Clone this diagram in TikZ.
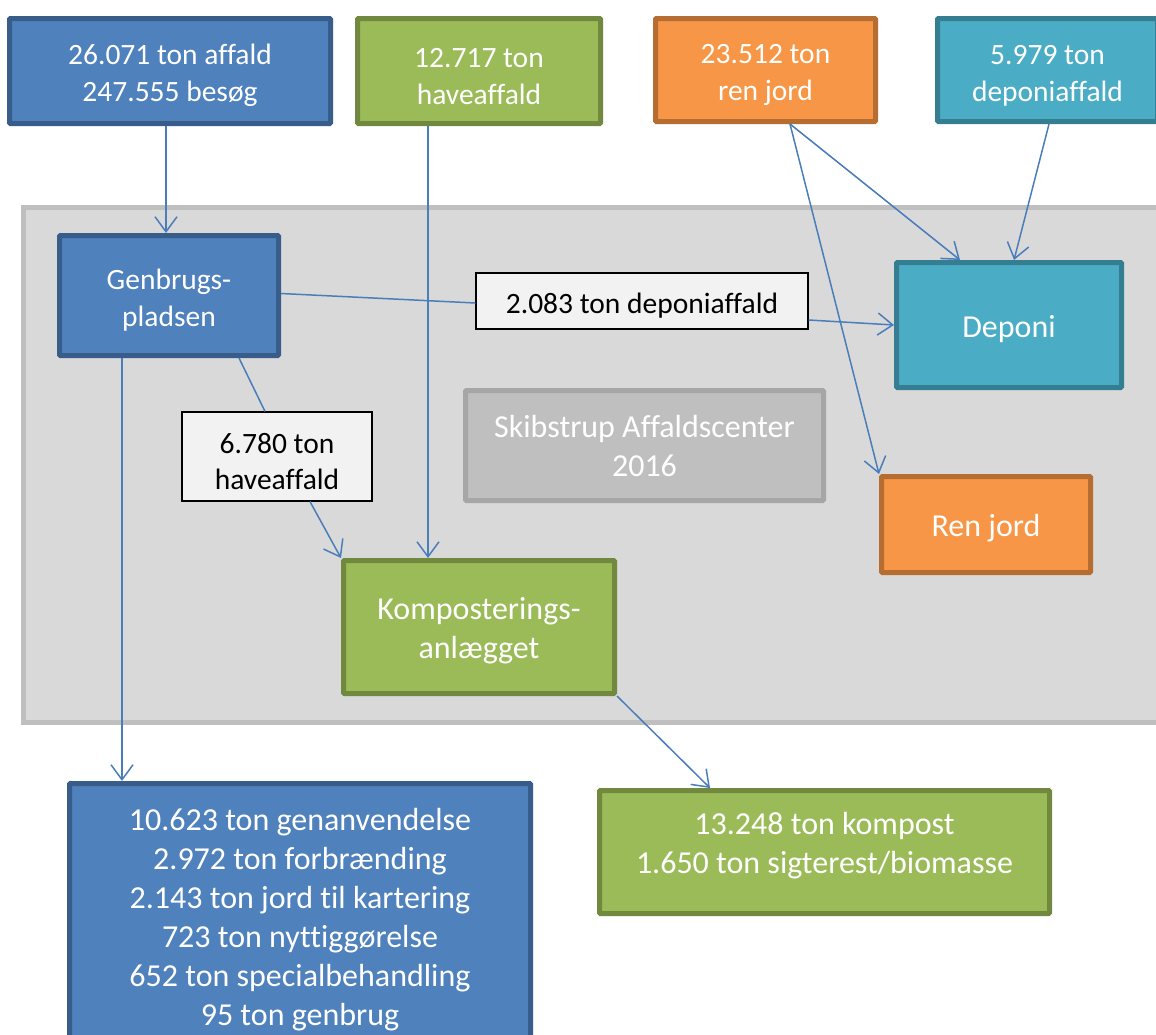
\documentclass[tikz,border=0pt]{standalone}
\usepackage{fontspec}
\setmainfont{Carlito}[Ligatures={NoCommon,NoContextual}]
\usetikzlibrary{arrows.meta}
\definecolor{bluefill}{HTML}{4F81BD}
\definecolor{blueline}{HTML}{385D8A}
\definecolor{grnfill}{HTML}{9BBB59}
\definecolor{grnline}{HTML}{71893F}
\definecolor{orafill}{HTML}{F79646}
\definecolor{oraline}{HTML}{B66D31}
\definecolor{tealfill}{HTML}{4BACC6}
\definecolor{tealline}{HTML}{357D91}
\definecolor{contfill}{HTML}{D9D9D9}
\definecolor{contline}{HTML}{BFBFBF}
\definecolor{titlefill}{HTML}{BFBFBF}
\definecolor{titleline}{HTML}{A6A6A6}
\definecolor{lblfill}{HTML}{F2F2F2}
\definecolor{flowcol}{HTML}{4A7EBB}
% taller first line, so the text sits a little lower in its box
\newcommand\tp{\rule{0pt}{30pt}}
% deeper last line, so the text sits a little higher
\newcommand\bt{\rule[-19pt]{0pt}{1pt}}
\begin{document}
\begin{tikzpicture}
      [x=1pt,y=-1pt,
       bx/.style={rectangle, rounded corners=1pt, line width=5pt, text=white, align=center, inner sep=0pt, font=\fontsize{29.5}{37}\selectfont},
       big/.style={font=\fontsize{32}{39}\selectfont},
       blubox/.style={bx, fill=bluefill, draw=blueline},
       grnbox/.style={bx, fill=grnfill, draw=grnline},
       orabox/.style={bx, fill=orafill, draw=oraline},
       tealbox/.style={bx, fill=tealfill, draw=tealline},
       titlebox/.style={bx, big, fill=titlefill, draw=titleline},
       lbl/.style={rectangle, draw=black, line width=1.2pt, fill=lblfill, align=center, inner sep=0pt, font=\fontsize{29.5}{36}\selectfont},
       flow/.style={draw=flowcol, line width=1.5pt, -{Straight Barb[length=15pt,width=22pt]}}]
    \clip (0,0) rectangle (1156,1034);
    \fill[white] (0,0) rectangle (1156,1034);
    \draw[fill=contfill, draw=contline, line width=5pt] (23.5,207.5) rectangle (1180,722.5);

    \node[blubox, minimum width=321pt, minimum height=105pt] (affald) at (170,71) {\tp 26.071 ton affald\\247.555 besøg};
    \node[grnbox, minimum width=243pt, minimum height=105pt] (have) at (479,71) {\tp 12.717 ton\\haveaffald};
    \node[orabox, minimum width=220pt, minimum height=103pt] (jord) at (765.5,70) {\tp 23.512 ton\\ren jord};
    \node[tealbox, minimum width=220pt, minimum height=103pt] (depaff) at (1047.5,70) {\tp 5.979 ton\\deponiaffald};

    \node[blubox, minimum width=219pt, minimum height=120pt] (gen) at (169,295.5) {\tp Genbrugs-\\pladsen};
    \node[tealbox, big, minimum width=225pt, minimum height=125pt] (depo) at (1009,325) {\tp Deponi};
    \node[titlebox, minimum width=358pt, minimum height=110pt] (title) at (644.5,445.5) {Skibstrup Affaldscenter\\2016};
    \node[orabox, big, minimum width=209pt, minimum height=96pt] (ren) at (986,524.5) {\tp Ren jord};
    \node[grnbox, big, minimum width=271pt, minimum height=133pt] (komp) at (479,627) {\tp Komposterings-\\anlægget};

    \node[lbl, minimum width=332pt, minimum height=56pt] (lbldep) at (642,301) {\tp 2.083 ton deponiaffald};
    \node[lbl, minimum width=190pt, minimum height=89pt] (lblhave) at (277,456.5) {\tp 6.780 ton\\haveaffald};

    \node[blubox, big, minimum width=461pt, minimum height=264pt] (ud) at (300,915.5)
      {\tp 10.623 ton genanvendelse\\2.972 ton forbrænding\\2.143 ton jord til kartering\\723 ton nyttiggørelse\\652 ton specialbehandling\\95 ton genbrug};
    \node[grnbox, big, minimum width=450pt, minimum height=123pt] (kompud) at (824.5,852) {13.248 ton kompost\\1.650 ton sigterest/biomasse\bt};

    \draw[flow] ([xshift=-4pt]affald.south) -- ([xshift=-3pt]gen.north);
    \draw[flow] ([xshift=-51pt]have.south) -- ([xshift=-51pt]komp.north);
    \draw[flow] ([xshift=24.5pt]jord.south) -- ([xshift=-49pt]depo.north);
    \draw[flow] ([xshift=24.5pt]jord.south) -- (ren.north west);
    \draw[flow] ([xshift=1.5pt]depaff.south) -- ([xshift=5pt]depo.north);
    \draw[flowcol, line width=1.5pt] ([yshift=2pt]gen.east) -- ([yshift=-2pt]lbldep.west);
    \draw[flow] ([yshift=-19pt]lbldep.east) -- (depo.west);
    \draw[flowcol, line width=1.5pt] ([xshift=70pt]gen.south) -- ([xshift=-12pt]lblhave.north);
    \draw[flow] ([xshift=33pt]lblhave.south) -- (komp.north west);
    \draw[flow] ([xshift=-47pt]gen.south) -- ([xshift=-47pt]gen.south |- ud.north);
    \draw[flow] (komp.south east) -- ([xshift=-114.5pt]kompud.north);
  \end{tikzpicture}
\end{document}
